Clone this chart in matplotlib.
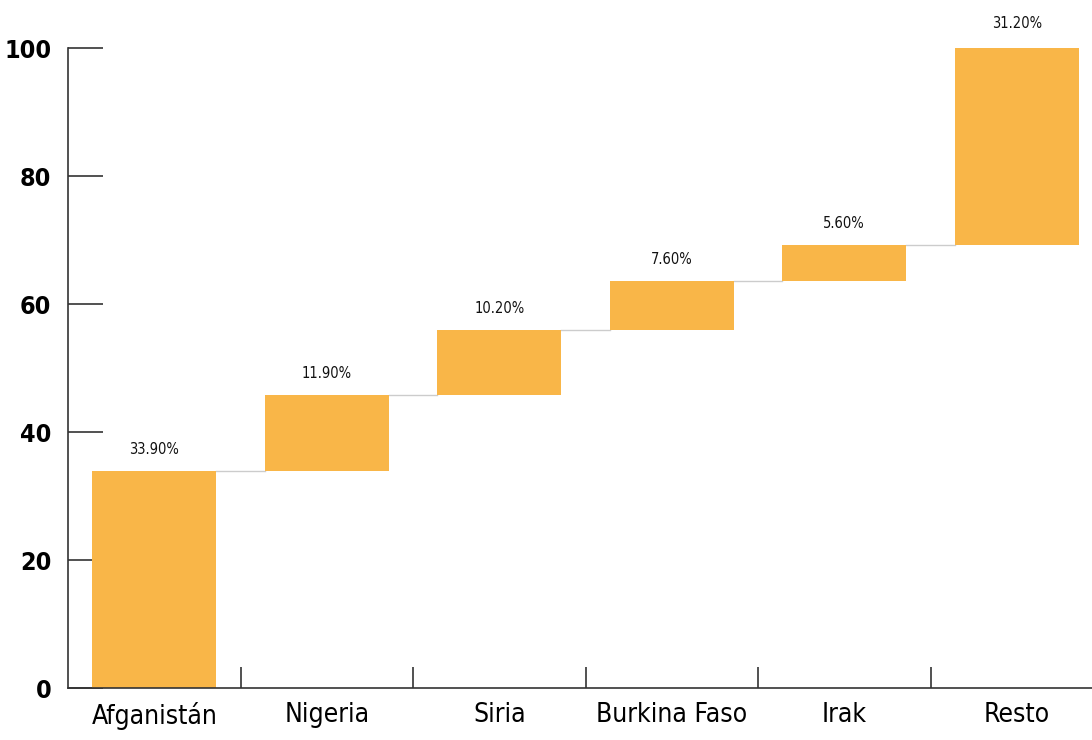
import matplotlib
matplotlib.use("Agg")
import matplotlib.pyplot as plt

categories = ["Afganistán", "Nigeria", "Siria", "Burkina Faso", "Irak", "Resto"]
values = [33.9, 11.9, 10.2, 7.6, 5.6, 31.2]
labels = ["33.90%", "11.90%", "10.20%", "7.60%", "5.60%", "31.20%"]
yticks = [0, 20, 40, 60, 80, 100]

plt.rcParams["font.family"] = ["DejaVu Sans"]
plt.rcParams["font.stretch"] = "condensed"

fig = plt.figure(figsize=(10.92, 7.4), dpi=100)
ax = fig.add_axes([68/1092, 52/740, 1035/1092, 640/740])

bottoms = []
cum = 0
for v in values:
    bottoms.append(cum)
    cum += v
x = list(range(len(values)))
w = 0.72
color = "#F9B648"
ax.bar(x, values, bottom=bottoms, width=w, color=color, zorder=2)
for i in range(len(values) - 1):
    top = bottoms[i] + values[i]
    ax.plot([i + w/2, i + 1 - w/2], [top, top], color="#cccccc", lw=1, zorder=1)
for i, (b, v, l) in enumerate(zip(bottoms, values, labels)):
    ax.text(i, b + v + 2.2, l, ha="center", va="bottom", fontsize=10.5,
            color="#111111", fontstretch="condensed")

ax.set_xlim(-0.5, 5.5)
ax.set_ylim(0, 100)
ax.set_yticks(yticks)
ax.set_yticklabels([str(t) for t in yticks], fontsize=18, fontweight="bold",
                   fontstretch="condensed")
ax.set_xticks([i + 0.5 for i in range(5)], minor=False)
ax.set_xticklabels([])
ax.set_xticks(x, minor=True)
ax.set_xticklabels(categories, minor=True, fontsize=19, fontstretch="condensed")
ax.tick_params(axis="x", which="major", direction="in", length=15, width=1.2, color="#333333")
ax.tick_params(axis="x", which="minor", length=0, pad=10)
ax.tick_params(axis="y", direction="in", length=25, width=1.2, color="#333333", pad=12)
for s in ["top", "right"]:
    ax.spines[s].set_visible(False)
for s in ["left", "bottom"]:
    ax.spines[s].set_color("#333333")
    ax.spines[s].set_linewidth(1.2)

fig.savefig("out.png", dpi=100)
